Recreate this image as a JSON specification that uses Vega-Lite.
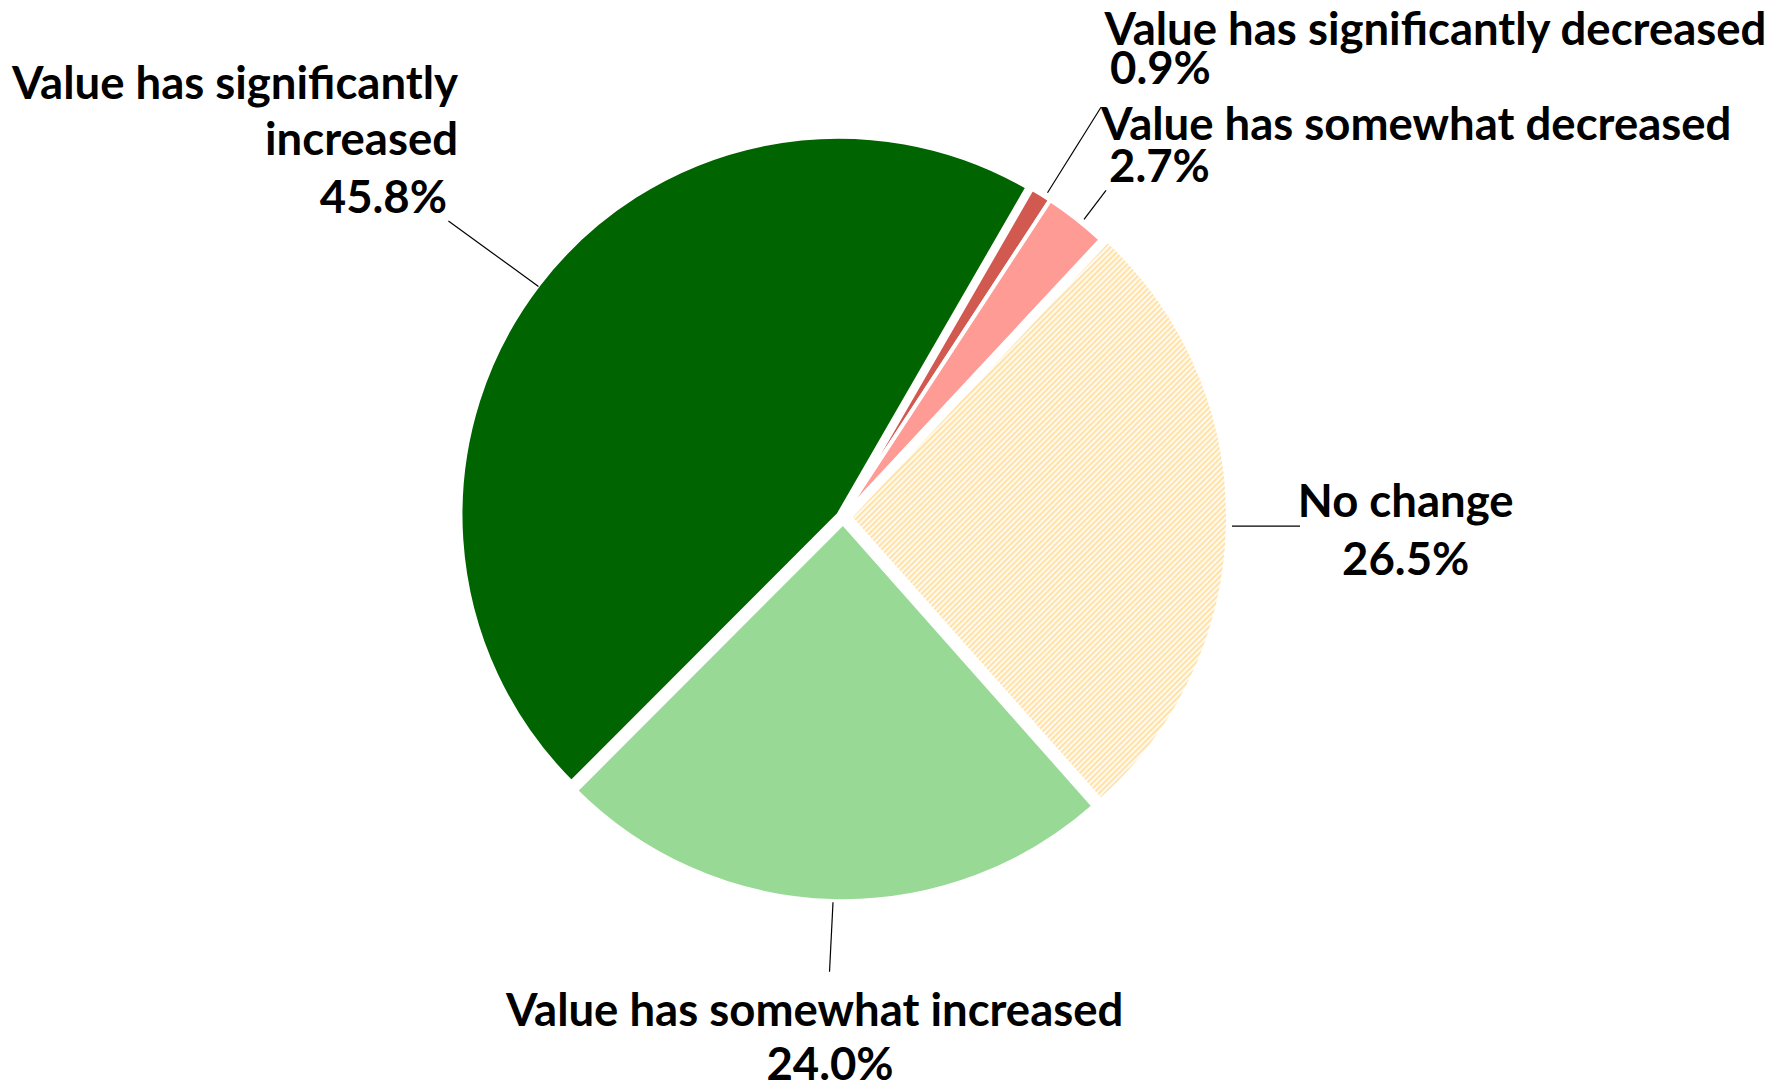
{
 "$schema": "https://vega.github.io/schema/vega-lite/v6.json",
 "width": 1789,
 "height": 1090,
 "autosize": {"type": "fit", "contains": "padding"},
 "padding": 0,
 "background": "white",
 "config": {"view": {"stroke": null}, "text": {"font": "Lato", "fontWeight": "bold", "fontSize": 45.5, "color": "black", "baseline": "middle", "dy": 4}},
 "datasets": {
  "pie": [
   {"category": "Value has significantly decreased", "value": 0.009},
   {"category": "Value has somewhat decreased", "value": 0.027},
   {"category": "No change", "value": 0.265},
   {"category": "Value has somewhat increased", "value": 0.24},
   {"category": "Value has significantly\nincreased", "value": 0.458}
  ]
 },
 "data": {"name": "pie"},
 "transform": [{"stack": "value", "groupby": [], "as": ["v0", "v1"]}],
 "layer": [
  {
   "transform": [{"filter": {"field": "category", "oneOf": ["Value has significantly decreased", "Value has somewhat decreased"]}}],
   "mark": {"type": "arc", "outerRadius": 378, "stroke": "white", "strokeWidth": 4},
   "encoding": {
    "x": {"datum": 0, "type": "quantitative", "scale": {"domain": [-2.2302, 2.5026], "nice": false, "zero": false}, "axis": null},
    "y": {"datum": 0, "type": "quantitative", "scale": {"domain": [-1.5079, 1.3757], "nice": false, "zero": false}, "axis": null},
    "theta": {"field": "v0", "type": "quantitative", "scale": {"domain": [0, 0.999], "range": [0.5236, 6.8068]}},
    "theta2": {"field": "v1"},
    "color": {"field": "category", "type": "nominal", "legend": null,
     "scale": {"domain": ["Value has significantly decreased", "Value has somewhat decreased", "No change", "Value has somewhat increased", "Value has significantly\nincreased"],
               "range": ["#D2594F", "#FF9B95", "#FFEBD0", "#99D996", "#006400"]}}
   }
  },
  {
   "transform": [{"filter": {"field": "category", "equal": "Value has significantly\nincreased"}}],
   "mark": {"type": "arc", "outerRadius": 378, "stroke": "white", "strokeWidth": 4, "color": "#006400"},
   "encoding": {
    "x": {"datum": -0.012, "type": "quantitative", "axis": null},
    "y": {"datum": 0.004, "type": "quantitative", "axis": null},
    "theta": {"field": "v0", "type": "quantitative"},
    "theta2": {"field": "v1"}
   }
  },
  {
   "transform": [{"filter": {"field": "category", "equal": "Value has somewhat increased"}}],
   "mark": {"type": "arc", "outerRadius": 378, "stroke": "white", "strokeWidth": 4, "color": "#99D996"},
   "encoding": {
    "x": {"datum": 0, "type": "quantitative", "axis": null},
    "y": {"datum": -0.0185, "type": "quantitative", "axis": null},
    "theta": {"field": "v0", "type": "quantitative"},
    "theta2": {"field": "v1"}
   }
  },
  {
   "transform": [{"filter": {"field": "category", "equal": "No change"}}],
   "mark": {"type": "arc", "outerRadius": 378, "stroke": "white", "strokeWidth": 4,
    "fill": {"gradient": "linear", "x1": 0, "y1": 0, "x2": 0.7778, "y2": 1.1505, "stops": [
{"offset":0.27,"color":"#fff"},{"offset":0.273,"color":"#fd9"},{"offset":0.276,"color":"#fff"},{"offset":0.279,"color":"#fd9"},{"offset":0.282,"color":"#fff"},{"offset":0.285,"color":"#fd9"},{"offset":0.288,"color":"#fff"},{"offset":0.291,"color":"#fd9"},{"offset":0.294,"color":"#fff"},{"offset":0.297,"color":"#fd9"},
{"offset":0.3,"color":"#fff"},{"offset":0.303,"color":"#fd9"},{"offset":0.306,"color":"#fff"},{"offset":0.309,"color":"#fd9"},{"offset":0.312,"color":"#fff"},{"offset":0.315,"color":"#fd9"},{"offset":0.318,"color":"#fff"},{"offset":0.321,"color":"#fd9"},{"offset":0.324,"color":"#fff"},{"offset":0.327,"color":"#fd9"},
{"offset":0.33,"color":"#fff"},{"offset":0.333,"color":"#fd9"},{"offset":0.336,"color":"#fff"},{"offset":0.339,"color":"#fd9"},{"offset":0.342,"color":"#fff"},{"offset":0.345,"color":"#fd9"},{"offset":0.348,"color":"#fff"},{"offset":0.351,"color":"#fd9"},{"offset":0.354,"color":"#fff"},{"offset":0.357,"color":"#fd9"},
{"offset":0.36,"color":"#fff"},{"offset":0.363,"color":"#fd9"},{"offset":0.366,"color":"#fff"},{"offset":0.369,"color":"#fd9"},{"offset":0.372,"color":"#fff"},{"offset":0.375,"color":"#fd9"},{"offset":0.378,"color":"#fff"},{"offset":0.381,"color":"#fd9"},{"offset":0.384,"color":"#fff"},{"offset":0.387,"color":"#fd9"},
{"offset":0.39,"color":"#fff"},{"offset":0.393,"color":"#fd9"},{"offset":0.396,"color":"#fff"},{"offset":0.399,"color":"#fd9"},{"offset":0.402,"color":"#fff"},{"offset":0.405,"color":"#fd9"},{"offset":0.408,"color":"#fff"},{"offset":0.411,"color":"#fd9"},{"offset":0.414,"color":"#fff"},{"offset":0.417,"color":"#fd9"},
{"offset":0.42,"color":"#fff"},{"offset":0.423,"color":"#fd9"},{"offset":0.426,"color":"#fff"},{"offset":0.429,"color":"#fd9"},{"offset":0.432,"color":"#fff"},{"offset":0.435,"color":"#fd9"},{"offset":0.438,"color":"#fff"},{"offset":0.441,"color":"#fd9"},{"offset":0.444,"color":"#fff"},{"offset":0.447,"color":"#fd9"},
{"offset":0.45,"color":"#fff"},{"offset":0.453,"color":"#fd9"},{"offset":0.456,"color":"#fff"},{"offset":0.459,"color":"#fd9"},{"offset":0.462,"color":"#fff"},{"offset":0.465,"color":"#fd9"},{"offset":0.468,"color":"#fff"},{"offset":0.471,"color":"#fd9"},{"offset":0.474,"color":"#fff"},{"offset":0.477,"color":"#fd9"},
{"offset":0.48,"color":"#fff"},{"offset":0.483,"color":"#fd9"},{"offset":0.486,"color":"#fff"},{"offset":0.489,"color":"#fd9"},{"offset":0.492,"color":"#fff"},{"offset":0.495,"color":"#fd9"},{"offset":0.498,"color":"#fff"},{"offset":0.501,"color":"#fd9"},{"offset":0.504,"color":"#fff"},{"offset":0.507,"color":"#fd9"},
{"offset":0.51,"color":"#fff"},{"offset":0.513,"color":"#fd9"},{"offset":0.516,"color":"#fff"},{"offset":0.519,"color":"#fd9"},{"offset":0.522,"color":"#fff"},{"offset":0.525,"color":"#fd9"},{"offset":0.528,"color":"#fff"},{"offset":0.531,"color":"#fd9"},{"offset":0.534,"color":"#fff"},{"offset":0.537,"color":"#fd9"},
{"offset":0.54,"color":"#fff"},{"offset":0.543,"color":"#fd9"},{"offset":0.546,"color":"#fff"},{"offset":0.549,"color":"#fd9"},{"offset":0.552,"color":"#fff"},{"offset":0.555,"color":"#fd9"},{"offset":0.558,"color":"#fff"},{"offset":0.561,"color":"#fd9"},{"offset":0.564,"color":"#fff"},{"offset":0.567,"color":"#fd9"},
{"offset":0.57,"color":"#fff"},{"offset":0.573,"color":"#fd9"},{"offset":0.576,"color":"#fff"},{"offset":0.579,"color":"#fd9"},{"offset":0.582,"color":"#fff"},{"offset":0.585,"color":"#fd9"},{"offset":0.588,"color":"#fff"},{"offset":0.591,"color":"#fd9"},{"offset":0.594,"color":"#fff"},{"offset":0.597,"color":"#fd9"},
{"offset":0.6,"color":"#fff"},{"offset":0.603,"color":"#fd9"},{"offset":0.606,"color":"#fff"},{"offset":0.609,"color":"#fd9"},{"offset":0.612,"color":"#fff"},{"offset":0.615,"color":"#fd9"},{"offset":0.618,"color":"#fff"},{"offset":0.621,"color":"#fd9"},{"offset":0.624,"color":"#fff"},{"offset":0.627,"color":"#fd9"},
{"offset":0.63,"color":"#fff"},{"offset":0.633,"color":"#fd9"},{"offset":0.636,"color":"#fff"},{"offset":0.639,"color":"#fd9"},{"offset":0.642,"color":"#fff"},{"offset":0.645,"color":"#fd9"},{"offset":0.648,"color":"#fff"},{"offset":0.651,"color":"#fd9"},{"offset":0.654,"color":"#fff"},{"offset":0.657,"color":"#fd9"},
{"offset":0.66,"color":"#fff"},{"offset":0.663,"color":"#fd9"},{"offset":0.666,"color":"#fff"},{"offset":0.669,"color":"#fd9"},{"offset":0.672,"color":"#fff"},{"offset":0.675,"color":"#fd9"},{"offset":0.678,"color":"#fff"},{"offset":0.681,"color":"#fd9"},{"offset":0.684,"color":"#fff"},{"offset":0.687,"color":"#fd9"},
{"offset":0.69,"color":"#fff"},{"offset":0.693,"color":"#fd9"},{"offset":0.696,"color":"#fff"},{"offset":0.699,"color":"#fd9"},{"offset":0.702,"color":"#fff"},{"offset":0.705,"color":"#fd9"},{"offset":0.708,"color":"#fff"},{"offset":0.711,"color":"#fd9"},{"offset":0.714,"color":"#fff"},{"offset":0.717,"color":"#fd9"},
{"offset":0.72,"color":"#fff"},{"offset":0.723,"color":"#fd9"},{"offset":0.726,"color":"#fff"},{"offset":0.729,"color":"#fd9"},{"offset":0.732,"color":"#fff"},{"offset":0.735,"color":"#fd9"},{"offset":0.738,"color":"#fff"},{"offset":0.741,"color":"#fd9"},{"offset":0.744,"color":"#fff"},{"offset":0.747,"color":"#fd9"},
{"offset":0.75,"color":"#fff"},{"offset":0.753,"color":"#fd9"},{"offset":0.756,"color":"#fff"},{"offset":0.759,"color":"#fd9"},{"offset":0.762,"color":"#fff"},{"offset":0.765,"color":"#fd9"},{"offset":0.768,"color":"#fff"},{"offset":0.771,"color":"#fd9"},{"offset":0.774,"color":"#fff"},{"offset":0.777,"color":"#fd9"},
{"offset":0.78,"color":"#fff"},{"offset":0.783,"color":"#fd9"},{"offset":0.786,"color":"#fff"},{"offset":0.789,"color":"#fd9"},{"offset":0.792,"color":"#fff"},{"offset":0.795,"color":"#fd9"},{"offset":0.798,"color":"#fff"},{"offset":0.801,"color":"#fd9"},{"offset":0.804,"color":"#fff"},{"offset":0.807,"color":"#fd9"},
{"offset":0.81,"color":"#fff"},{"offset":0.813,"color":"#fd9"},{"offset":0.816,"color":"#fff"},{"offset":0.819,"color":"#fd9"},{"offset":0.822,"color":"#fff"},{"offset":0.825,"color":"#fd9"},{"offset":0.828,"color":"#fff"},{"offset":0.831,"color":"#fd9"},{"offset":0.834,"color":"#fff"},{"offset":0.837,"color":"#fd9"},
{"offset":0.84,"color":"#fff"},{"offset":0.843,"color":"#fd9"},{"offset":0.846,"color":"#fff"},{"offset":0.849,"color":"#fd9"},{"offset":0.852,"color":"#fff"},{"offset":0.855,"color":"#fd9"},{"offset":0.858,"color":"#fff"},{"offset":0.861,"color":"#fd9"},{"offset":0.864,"color":"#fff"},{"offset":0.867,"color":"#fd9"},
{"offset":0.87,"color":"#fff"}
    ]}},
   "encoding": {
    "x": {"datum": 0.0185, "type": "quantitative", "axis": null},
    "y": {"datum": -0.0026, "type": "quantitative", "axis": null},
    "theta": {"field": "v0", "type": "quantitative"},
    "theta2": {"field": "v1"}
   }
  },
  {
   "transform": [{"filter": {"field": "category", "equal": "Value has significantly\nincreased"}}],
   "mark": {"type": "rule", "color": "black", "strokeWidth": 1.2},
   "encoding": {"x": {"datum": -1.0439, "type": "quantitative", "axis": null}, "y": {"datum": 0.787, "type": "quantitative", "axis": null}, "x2": {"datum": -0.8056}, "y2": {"datum": 0.6119}}
  },
  {
   "transform": [{"filter": {"field": "category", "equal": "Value has significantly decreased"}}],
   "mark": {"type": "rule", "color": "black", "strokeWidth": 1.2},
   "encoding": {"x": {"datum": 0.541, "type": "quantitative", "axis": null}, "y": {"datum": 0.862, "type": "quantitative", "axis": null}, "x2": {"datum": 0.6825}, "y2": {"datum": 1.09}}
  },
  {
   "transform": [{"filter": {"field": "category", "equal": "Value has somewhat decreased"}}],
   "mark": {"type": "rule", "color": "black", "strokeWidth": 1.2},
   "encoding": {"x": {"datum": 0.6376, "type": "quantitative", "axis": null}, "y": {"datum": 0.791, "type": "quantitative", "axis": null}, "x2": {"datum": 0.6958}, "y2": {"datum": 0.8685}}
  },
  {
   "transform": [{"filter": {"field": "category", "equal": "No change"}}],
   "mark": {"type": "rule", "color": "black", "strokeWidth": 1.2},
   "encoding": {"x": {"datum": 1.029, "type": "quantitative", "axis": null}, "y": {"datum": -0.0265, "type": "quantitative", "axis": null}, "x2": {"datum": 1.209}, "y2": {"datum": -0.0265}}
  },
  {
   "transform": [{"filter": {"field": "category", "equal": "Value has somewhat increased"}}],
   "mark": {"type": "rule", "color": "black", "strokeWidth": 1.2},
   "encoding": {"x": {"datum": -0.0265, "type": "quantitative", "axis": null}, "y": {"datum": -1.029, "type": "quantitative", "axis": null}, "x2": {"datum": -0.0357}, "y2": {"datum": -1.214}}
  },
  {
   "transform": [{"filter": {"field": "category", "equal": "Value has significantly\nincreased"}}],
   "mark": {"type": "text", "align": "right", "lineBreak": "\n", "lineHeight": 56},
   "encoding": {"x": {"datum": -1.0185, "type": "quantitative", "axis": null}, "y": {"datum": 1.1587, "type": "quantitative", "axis": null}, "text": {"field": "category"}}
  },
  {
   "transform": [{"filter": {"field": "category", "equal": "Value has significantly\nincreased"}}],
   "mark": {"type": "text", "align": "right"},
   "encoding": {"x": {"datum": -1.0476, "type": "quantitative", "axis": null}, "y": {"datum": 0.857, "type": "quantitative", "axis": null}, "text": {"field": "value", "format": ".1%"}}
  },
  {
   "transform": [{"filter": {"field": "category", "equal": "Value has significantly decreased"}}],
   "mark": {"type": "text", "align": "left"},
   "encoding": {"x": {"datum": 0.6918, "type": "quantitative", "axis": null}, "y": {"datum": 1.3032, "type": "quantitative", "axis": null}, "text": {"field": "category"}}
  },
  {
   "transform": [{"filter": {"field": "category", "equal": "Value has significantly decreased"}}],
   "mark": {"type": "text", "align": "left"},
   "encoding": {"x": {"datum": 0.7063, "type": "quantitative", "axis": null}, "y": {"datum": 1.1992, "type": "quantitative", "axis": null}, "text": {"field": "value", "format": ".1%"}}
  },
  {
   "transform": [{"filter": {"field": "category", "equal": "Value has somewhat decreased"}}],
   "mark": {"type": "text", "align": "left"},
   "encoding": {"x": {"datum": 0.6825, "type": "quantitative", "axis": null}, "y": {"datum": 1.0497, "type": "quantitative", "axis": null}, "text": {"field": "category"}}
  },
  {
   "transform": [{"filter": {"field": "category", "equal": "Value has somewhat decreased"}}],
   "mark": {"type": "text", "align": "left"},
   "encoding": {"x": {"datum": 0.7037, "type": "quantitative", "axis": null}, "y": {"datum": 0.9381, "type": "quantitative", "axis": null}, "text": {"field": "value", "format": ".1%"}}
  },
  {
   "transform": [{"filter": {"field": "category", "equal": "No change"}}],
   "mark": {"type": "text", "align": "center"},
   "encoding": {"x": {"datum": 1.4886, "type": "quantitative", "axis": null}, "y": {"datum": 0.0463, "type": "quantitative", "axis": null}, "text": {"field": "category"}}
  },
  {
   "transform": [{"filter": {"field": "category", "equal": "No change"}}],
   "mark": {"type": "text", "align": "center"},
   "encoding": {"x": {"datum": 1.4886, "type": "quantitative", "axis": null}, "y": {"datum": -0.1085, "type": "quantitative", "axis": null}, "text": {"field": "value", "format": ".1%"}}
  },
  {
   "transform": [{"filter": {"field": "category", "equal": "Value has somewhat increased"}}],
   "mark": {"type": "text", "align": "center"},
   "encoding": {"x": {"datum": -0.0751, "type": "quantitative", "axis": null}, "y": {"datum": -1.3108, "type": "quantitative", "axis": null}, "text": {"field": "category"}}
  },
  {
   "transform": [{"filter": {"field": "category", "equal": "Value has somewhat increased"}}],
   "mark": {"type": "text", "align": "center"},
   "encoding": {"x": {"datum": -0.0344, "type": "quantitative", "axis": null}, "y": {"datum": -1.455, "type": "quantitative", "axis": null}, "text": {"field": "value", "format": ".1%"}}
  }
 ]
}
